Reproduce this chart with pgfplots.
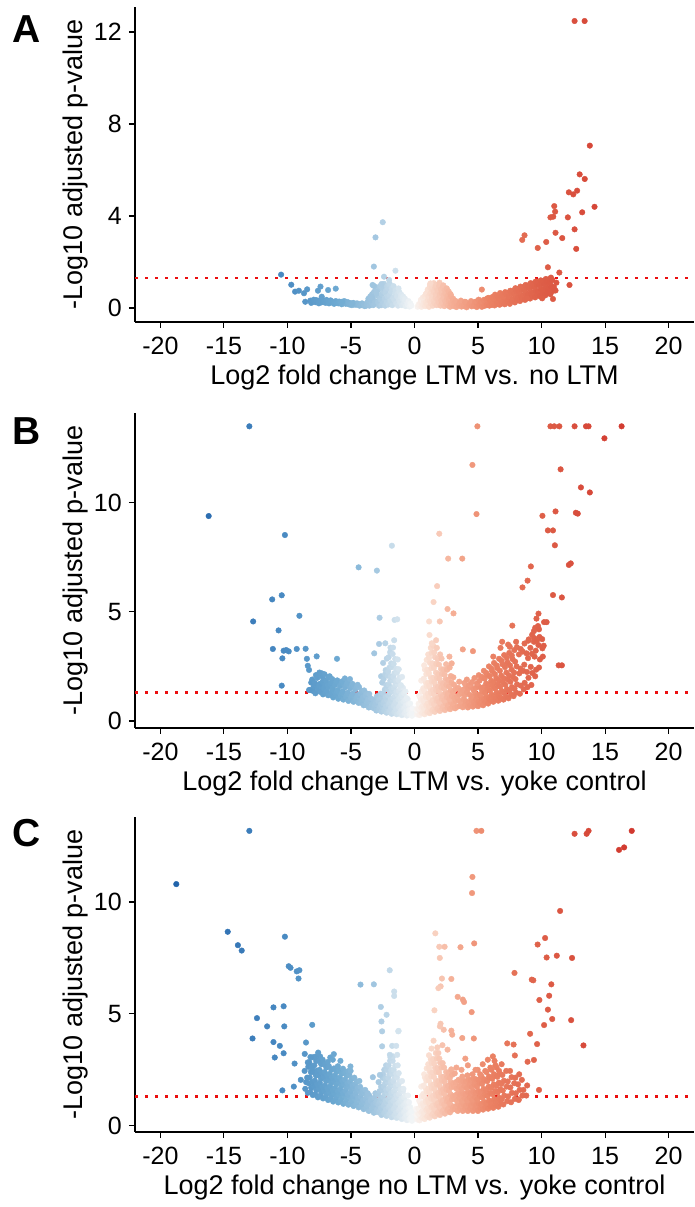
\documentclass[border=0pt]{standalone}
\usepackage{pgfplots}
\pgfplotsset{compat=1.18}
\usepackage{fontspec}
\setmainfont{Liberation Sans}
\pgfplotsset{colormap={volcmap}{
rgb255(0pt)=(28,95,168);
rgb255(5pt)=(50,115,180);
rgb255(10pt)=(75,140,195);
rgb255(14pt)=(110,170,210);
rgb255(17pt)=(165,200,225);
rgb255(19pt)=(220,232,240);
rgb255(20pt)=(248,248,248);
rgb255(21pt)=(250,225,212);
rgb255(23pt)=(245,175,150);
rgb255(26pt)=(235,130,100);
rgb255(30pt)=(222,95,72);
rgb255(35pt)=(212,65,52);
rgb255(40pt)=(205,45,40)}}
\pgfplotsset{
 volc/.style={
  scale only axis, width=559pt, height=315pt,
  xmin=-22, xmax=22,
  axis x line*=bottom, axis y line*=left,
  axis line style={line width=1.3pt, black, -},
  major tick style={line width=1.1pt, black},
  tick align=outside, major tick length=6pt,
  xtick={-20,-15,-10,-5,0,5,10,15,20},
  xticklabels={-20,-15,-10,-5,0,5,10,15,20},
  ticklabel style={font=\fontsize{25}{30}\selectfont, inner sep=0pt},
  xticklabel style={yshift=-9pt},
  yticklabel style={xshift=-7pt},
  /pgf/number format/assume math mode=true,
  xlabel style={font=\fontsize{27}{32}\selectfont, at={(axis description cs:0.5,0)}, anchor=north, inner sep=0pt, yshift=-42.5pt},
  ylabel style={font=\fontsize{27}{32}\selectfont, at={(axis description cs:0,0.5)}, anchor=south, inner sep=0pt, yshift=47pt},
  ylabel={-Log10 adjusted p-value},
  colormap name=volcmap, point meta min=-20, point meta max=20,
  anchor=south west,
 },
 pts/.style={only marks, scatter, scatter src=x, mark=*, mark size=2.8pt,
  scatter/use mapped color={draw=mapped color, fill=mapped color}},
 thr/.style={color={rgb,255:red,235;green,15;blue,15}, line width=2.6pt, dash pattern=on 2.6pt off 7.4pt},
}
\begin{document}
\begin{tikzpicture}
\path[use as bounding box] (0pt,0pt) rectangle (694pt,1207pt);
\node[anchor=base west, inner sep=0pt, font=\bfseries\fontsize{39}{40}\selectfont] at (12pt,1164pt) {A};
\node[anchor=base west, inner sep=0pt, font=\bfseries\fontsize{39}{40}\selectfont] at (12pt,762pt) {B};
\node[anchor=base west, inner sep=0pt, font=\bfseries\fontsize{39}{40}\selectfont] at (12pt,360pt) {C};
% ================= Panel A
\begin{axis}[volc, at={(135pt,885pt)}, ymin=-0.61, ymax=13.09, ytick={0,4,8,12},
 xlabel={Log2 fold change LTM vs. no LTM}]
\addplot[pts] coordinates {
(-8.2,0.32) (-8.13,0.22) (-8.0,0.28) (-7.93,0.36) (-7.8,0.25) (-7.73,0.34) (-7.6,0.3) (-7.53,0.2) (-7.4,0.35) (-7.33,0.24) (-7.2,0.27) (-7.13,0.32) (-7.0,0.22) (-6.93,0.35) (-6.8,0.3) (-6.73,0.2) (-6.6,0.33) (-6.53,0.24) (-6.4,0.26) (-6.33,0.18) (-6.2,0.3) (-6.13,0.22) (-6.0,0.2) (-5.93,0.28) (-5.8,0.25) (-5.73,0.16) (-5.6,0.22) (-5.53,0.3) (-5.4,0.18) (-5.33,0.26) (-5.2,0.24) (-5.13,0.15) (-5.0,0.2) (-4.93,0.12) (-4.8,0.22) (-4.73,0.15) (-4.6,0.14) (-4.53,0.2) (-4.4,0.18) (-4.33,0.1) (-4.2,0.12) (-4.13,0.2) (-4.0,0.16) (-3.93,0.08) (-3.8,0.1) (-3.73,0.18)
(-3.7,0.25) (-3.63,0.4) (-3.55,0.1) (-3.48,0.5) (-3.6,0.3) (-3.4,0.22) (-3.33,0.6) (-3.45,0.38) (-3.25,0.12) (-3.18,0.7) (-3.3,0.45) (-3.1,0.3) (-3.03,0.82) (-3.15,0.18) (-2.95,0.55) (-2.88,0.25) (-3.0,0.9) (-2.8,0.1) (-2.73,0.42) (-2.85,0.8) (-2.65,0.35) (-2.58,0.6) (-2.7,0.95) (-2.61,0.12) (-2.5,0.22) (-2.43,0.7) (-2.55,0.88) (-2.35,0.4) (-2.28,0.65) (-2.4,1.05) (-2.31,0.1) (-2.2,0.25) (-2.13,0.5) (-2.25,0.75) (-2.16,0.95) (-2.05,0.15) (-1.98,0.55) (-2.1,0.85) (-2.01,1.0) (-1.9,0.3) (-1.83,0.7) (-1.95,1.05) (-1.75,0.12) (-1.68,0.45) (-1.8,0.85) (-1.6,0.35) (-1.53,0.65) (-1.65,0.95) (-1.45,0.2) (-1.38,0.5) (-1.5,0.78) (-1.3,0.1) (-1.23,0.35) (-1.35,0.62) (-1.26,0.85) (-1.15,0.25) (-1.08,0.48) (-1.2,0.7) (-1.0,0.12) (-0.93,0.4) (-1.05,0.58) (-0.85,0.2) (-0.78,0.35) (-0.9,0.5) (-0.7,0.08) (-0.63,0.25) (-0.75,0.4) (-0.55,0.15) (-0.48,0.3) (-0.4,0.06) (-0.33,0.2) (-0.25,0.1)
(0.25,0.05) (0.32,0.15) (0.4,0.1) (0.47,0.25) (0.55,0.05) (0.62,0.2) (0.5,0.35) (0.7,0.12) (0.77,0.3) (0.65,0.45) (0.85,0.08) (0.92,0.25) (0.8,0.5) (0.89,0.6) (1.0,0.15) (1.07,0.35) (0.95,0.65) (1.04,0.8) (1.15,0.05) (1.22,0.3) (1.1,0.5) (1.19,0.9) (1.3,0.2) (1.37,0.4) (1.25,0.62) (1.34,0.82) (1.22,1.02) (1.45,0.1) (1.52,0.3) (1.4,0.55) (1.49,0.75) (1.37,0.95) (1.6,0.2) (1.67,0.45) (1.55,0.68) (1.64,0.88) (1.52,1.08) (1.75,0.12) (1.82,0.38) (1.7,0.6) (1.79,0.82) (1.67,1.0) (1.9,0.25) (1.97,0.5) (1.85,0.72) (1.94,0.95) (2.05,0.1) (2.12,0.32) (2.0,0.58) (2.09,0.8) (1.97,1.1) (2.2,0.2) (2.27,0.42) (2.15,0.65) (2.24,0.88) (2.35,0.08) (2.42,0.3) (2.3,0.55) (2.39,0.78) (2.27,0.98) (2.5,0.18) (2.57,0.4) (2.45,0.62) (2.54,0.85) (2.65,0.1) (2.72,0.3) (2.6,0.52) (2.69,0.72) (2.8,0.05) (2.87,0.22) (2.75,0.42) (2.84,0.6) (2.95,0.12) (3.02,0.32) (2.9,0.5) (3.1,0.08) (3.17,0.25) (3.05,0.4)
(3.3,0.04) (3.37,0.2) (3.25,0.3) (3.5,0.12) (3.57,0.22) (3.7,0.06) (3.77,0.16) (3.65,0.32) (3.9,0.08) (3.97,0.27) (4.1,0.03) (4.17,0.19) (4.05,0.25) (4.3,0.12) (4.37,0.2) (4.5,0.07) (4.57,0.13) (4.45,0.3) (4.7,0.1) (4.77,0.26) (4.9,0.04) (4.97,0.21) (4.85,0.28) (5.1,0.13) (5.17,0.2) (5.05,0.36) (5.3,0.05) (5.37,0.22) (5.25,0.27) (5.5,0.09) (5.57,0.3) (5.45,0.35) (5.7,0.12) (5.77,0.17) (5.65,0.38) (5.74,0.42) (5.9,0.1) (5.97,0.32) (5.85,0.44) (6.1,0.14) (6.17,0.19) (6.05,0.4) (6.14,0.48) (6.3,0.11) (6.37,0.34) (6.25,0.4) (6.34,0.58) (6.5,0.17) (6.57,0.22) (6.45,0.45) (6.54,0.53) (6.7,0.14) (6.77,0.36) (6.65,0.44) (6.74,0.65) (6.9,0.2) (6.97,0.26) (6.85,0.5) (6.94,0.57) (7.1,0.16) (7.17,0.41) (7.05,0.47) (7.14,0.69) (7.3,0.26) (7.37,0.34) (7.25,0.6) (7.34,0.66) (7.5,0.18) (7.57,0.4) (7.45,0.48) (7.54,0.75) (7.7,0.3) (7.77,0.38) (7.65,0.65) (7.74,0.74) (7.9,0.24) (7.97,0.5) (7.85,0.6) (7.94,0.86) (8.1,0.34) (8.17,0.46) (8.05,0.74) (8.14,0.82) (8.3,0.3) (8.37,0.56) (8.25,0.68) (8.34,0.93) (8.5,0.4) (8.57,0.52) (8.45,0.82) (8.54,0.9) (8.7,0.35) (8.77,0.64) (8.65,0.76) (8.74,1.0) (8.9,0.46) (8.97,0.58) (8.85,0.9) (8.94,0.98) (9.1,0.41) (9.17,0.7) (9.05,0.84) (9.14,1.08) (9.3,0.52) (9.37,0.66) (9.25,0.94) (9.34,1.06) (9.5,0.46) (9.57,0.76) (9.45,0.9) (9.54,1.15) (9.7,0.56) (9.77,0.72) (9.65,1.02) (9.74,1.12) (9.9,0.5) (9.97,0.84) (9.85,0.98) (9.94,1.2) (10.1,0.62) (10.17,0.78) (10.05,1.08) (10.14,1.18) (10.3,0.55) (10.37,0.9) (10.25,1.02) (10.34,1.26) (10.5,0.66) (10.57,0.84) (10.45,1.14) (10.54,1.24) (10.7,0.6) (10.77,0.95) (10.65,1.08) (10.74,1.32) (10.9,0.74) (10.97,0.9) (10.85,1.22) (11.1,0.76) (11.17,1.1)
};
\addplot[pts] coordinates {
(-7.3,0.49) (-5.7,0.27) (-4.9,0.2)
(-10.5,1.45) (-9.7,1.01) (-9.4,0.71) (-9.1,0.75) (-8.7,0.64) (-8.45,0.81) (-8.6,0.27) (-7.6,0.75) (-7.4,0.93) (-6.8,0.78) (-6.2,0.84)
(-3.2,1.8) (-3.07,3.07) (-2.5,3.73) (-1.5,1.62) (-2.4,1.36) (-3.2,0.96) (-2.6,1.04) (-2.0,1.22) (-3.35,0.45) (-3.3,1.0) (-3.0,0.68)
(1.26,1.07) (5.3,0.8)
(10.5,1.77) (11.4,1.54) (12.2,1.0) (10.05,0.42) (10.9,0.39) (10.6,0.71) (8.87,0.42) (8.48,2.96) (8.66,3.16) (9.7,2.61) (10.37,2.87) (11.1,3.27) (11.63,3.04) (12.73,2.57) (12.6,3.42) (10.7,3.94) (10.92,3.97) (11.07,4.19) (11.0,4.43) (12.07,3.94) (13.2,4.16) (14.17,4.4) (12.15,5.03) (12.5,4.94) (12.8,5.1) (13.0,5.81) (13.4,5.61) (13.8,7.06) (12.6,12.48) (13.39,12.48)
};
\addplot[thr] coordinates {(-22,1.30103) (22,1.30103)};
\end{axis}
% ================= Panel B
\begin{axis}[volc, at={(135pt,479pt)}, ymin=-0.32, ymax=14.11, ytick={0,5,10},
 xlabel={Log2 fold change LTM vs. yoke control}]
\addplot[pts] coordinates {
(-8.2,1.42) (-8.13,1.76) (-8.0,1.38) (-7.93,1.58) (-8.05,1.9) (-7.8,1.27) (-7.73,1.62) (-7.85,1.75) (-7.76,2.1) (-7.6,1.45) (-7.53,1.6) (-7.65,1.98) (-7.56,2.12) (-7.4,1.33) (-7.33,1.55) (-7.45,1.7) (-7.36,2.06) (-7.48,2.22) (-7.2,1.22) (-7.13,1.5) (-7.25,1.78) (-7.16,1.9) (-7.28,2.18) (-7.0,1.28) (-6.93,1.36) (-7.05,1.66) (-6.96,1.82) (-7.08,2.14) (-6.8,1.18) (-6.73,1.55) (-6.85,1.64) (-6.76,2.0) (-6.6,1.2) (-6.53,1.32) (-6.65,1.68) (-6.56,1.76) (-6.68,2.05) (-6.4,1.08) (-6.33,1.36) (-6.45,1.5) (-6.36,1.82) (-6.48,1.92) (-6.2,1.2) (-6.13,1.33) (-6.25,1.66) (-6.16,1.8) (-6.0,1.02) (-5.93,1.3) (-6.05,1.42) (-5.96,1.76) (-6.08,1.86) (-5.8,1.14) (-5.73,1.26) (-5.85,1.6) (-5.76,1.7) (-5.6,0.98) (-5.53,1.25) (-5.65,1.36) (-5.56,1.7) (-5.68,1.82) (-5.4,1.1) (-5.33,1.2) (-5.45,1.55) (-5.36,1.66) (-5.48,1.95) (-5.2,0.92) (-5.13,1.2) (-5.25,1.3) (-5.16,1.65) (-5.28,1.76) (-5.0,1.05) (-4.93,1.15) (-5.05,1.5) (-4.96,1.6) (-5.08,1.92) (-4.8,0.88) (-4.73,1.14) (-4.85,1.26) (-4.76,1.6) (-4.88,1.7) (-4.6,0.98) (-4.53,1.1) (-4.65,1.45) (-4.56,1.56) (-4.4,0.83) (-4.33,1.08) (-4.45,1.2) (-4.36,1.55) (-4.48,1.66) (-4.2,0.84) (-4.13,0.96) (-4.25,1.25) (-4.16,1.36) (-4.0,0.72) (-3.93,1.0) (-4.05,1.1) (-3.96,1.4) (-3.8,0.74) (-3.73,0.86) (-3.85,1.15) (-3.76,1.26) (-3.6,0.62) (-3.53,0.9) (-3.65,1.0) (-3.56,1.24) (-3.4,0.64) (-3.33,0.76) (-3.45,1.04)
(-3.2,0.58) (-3.13,0.72) (-3.25,0.98) (-3.0,0.48) (-2.93,0.74) (-3.05,0.86) (-2.96,1.13) (-2.8,0.52) (-2.73,0.62) (-2.85,0.9) (-2.76,1.02) (-2.6,0.43) (-2.53,0.66) (-2.65,0.77) (-2.56,1.06) (-2.68,1.25) (-2.54,1.76) (-2.63,2.05) (-2.4,0.46) (-2.33,0.55) (-2.45,0.8) (-2.36,0.92) (-2.48,1.27) (-2.34,1.44) (-2.43,1.92) (-2.31,2.14) (-2.47,2.66) (-2.2,0.38) (-2.13,0.6) (-2.25,0.69) (-2.16,0.95) (-2.28,1.1) (-2.14,1.47) (-2.23,1.64) (-2.11,2.08) (-2.27,2.33) (-2.18,2.86) (-2.0,0.42) (-1.93,0.48) (-2.05,0.76) (-1.96,0.84) (-2.08,1.16) (-1.94,1.3) (-2.03,1.66) (-1.91,1.84) (-2.07,2.27) (-1.98,2.44) (-2.04,2.92) (-1.92,3.15) (-1.8,0.33) (-1.73,0.55) (-1.85,0.62) (-1.76,0.9) (-1.88,1.0) (-1.74,1.37) (-1.83,1.5) (-1.71,1.86) (-1.87,2.04) (-1.78,2.47) (-1.84,2.64) (-1.72,3.07) (-1.89,3.36) (-1.6,0.39) (-1.53,0.44) (-1.65,0.68) (-1.56,0.76) (-1.68,1.06) (-1.54,1.15) (-1.63,1.52) (-1.51,1.64) (-1.67,2.02) (-1.58,2.19) (-1.64,2.62) (-1.52,2.84) (-1.69,3.36) (-1.4,0.31) (-1.33,0.5) (-1.45,0.56) (-1.36,0.84) (-1.48,0.9) (-1.34,1.22) (-1.43,1.34) (-1.31,1.68) (-1.47,1.84) (-1.38,2.22) (-1.44,2.39) (-1.32,2.82) (-1.2,0.36) (-1.13,0.4) (-1.25,0.63) (-1.16,0.7) (-1.28,0.98) (-1.14,1.05) (-1.23,1.37) (-1.11,1.49) (-1.27,1.87) (-1.18,1.99) (-1.24,2.37) (-1.0,0.27) (-0.93,0.46) (-1.05,0.5) (-0.96,0.76) (-1.08,0.83) (-0.94,1.12) (-1.03,1.2) (-0.91,1.52) (-1.07,1.64) (-0.98,2.02) (-0.8,0.34) (-0.73,0.36) (-0.85,0.58) (-0.76,0.62) (-0.88,0.88) (-0.74,0.95) (-0.83,1.27) (-0.71,1.35) (-0.6,0.25) (-0.53,0.42) (-0.65,0.46) (-0.56,0.68) (-0.68,0.73) (-0.54,1.01) (-0.63,1.05) (-0.4,0.31) (-0.33,0.33) (-0.45,0.5) (-0.36,0.54) (-0.48,0.77) (-0.34,0.8) (-0.2,0.24) (-0.13,0.37) (-0.25,0.39) (-0.16,0.57)
(0.2,0.3) (0.27,0.39) (0.15,0.5) (0.24,0.57) (0.4,0.27) (0.47,0.44) (0.35,0.55) (0.44,0.7) (0.32,0.79) (0.46,1.05) (0.37,1.16) (0.6,0.36) (0.67,0.41) (0.55,0.6) (0.64,0.68) (0.52,0.95) (0.66,1.04) (0.57,1.36) (0.69,1.5) (0.53,1.85) (0.8,0.31) (0.87,0.5) (0.75,0.56) (0.84,0.83) (0.72,0.92) (0.86,1.25) (0.77,1.4) (0.89,1.76) (0.73,1.94) (0.82,2.36) (0.76,2.55) (1.0,0.4) (1.07,0.46) (0.95,0.7) (1.04,0.8) (0.92,1.1) (1.06,1.25) (0.97,1.6) (1.09,1.75) (0.93,2.15) (1.02,2.35) (0.96,2.8) (1.08,3.05) (1.2,0.36) (1.27,0.6) (1.15,0.66) (1.24,0.97) (1.12,1.08) (1.26,1.45) (1.17,1.6) (1.29,2.0) (1.13,2.2) (1.22,2.66) (1.16,2.9) (1.28,3.35) (1.4,0.47) (1.47,0.53) (1.35,0.83) (1.44,0.94) (1.32,1.28) (1.46,1.42) (1.37,1.8) (1.49,1.98) (1.33,2.42) (1.42,2.64) (1.36,3.12) (1.48,3.45) (1.6,0.42) (1.67,0.67) (1.55,0.77) (1.64,1.1) (1.52,1.24) (1.66,1.62) (1.57,1.78) (1.69,2.22) (1.53,2.44) (1.62,2.92) (1.56,3.15) (1.8,0.53) (1.87,0.6) (1.75,0.93) (1.84,1.04) (1.72,1.42) (1.86,1.56) (1.77,1.98) (1.89,2.14) (1.73,2.62) (1.82,2.84) (1.76,3.35) (2.0,0.46) (2.07,0.76) (1.95,0.86) (2.04,1.22) (1.92,1.36) (2.06,1.78) (1.97,1.94) (2.09,2.38) (1.93,2.58) (2.02,3.05) (2.2,0.57) (2.27,0.66) (2.15,1.02) (2.24,1.14) (2.12,1.55) (2.26,1.7) (2.17,2.16) (2.29,2.36) (2.13,2.86) (2.4,0.5) (2.47,0.82) (2.35,0.94) (2.44,1.32) (2.32,1.48) (2.46,1.92) (2.37,2.12) (2.49,2.6) (2.6,0.61) (2.67,0.72) (2.55,1.1) (2.64,1.24) (2.52,1.66) (2.66,1.88) (2.57,2.35) (2.8,0.54) (2.87,0.87) (2.75,1.0) (2.84,1.42) (2.72,1.58) (2.86,2.06) (2.77,2.45) (3.0,0.64) (3.07,0.77) (2.95,1.15) (3.04,1.32) (2.92,1.76) (3.06,2.0) (3.2,0.58) (3.27,0.92) (3.15,1.04) (3.24,1.46) (3.12,1.66)
(3.4,0.66) (3.47,0.97) (3.35,1.13) (3.44,1.52) (3.6,0.7) (3.67,0.83) (3.55,1.22) (3.64,1.38) (3.52,1.8) (3.8,0.63) (3.87,1.0) (3.75,1.27) (3.84,1.44) (4.0,0.75) (4.07,0.9) (3.95,1.18) (4.04,1.62) (3.92,1.74) (4.2,0.62) (4.27,0.84) (4.15,1.33) (4.24,1.5) (4.12,1.9) (4.4,0.71) (4.47,1.02) (4.35,1.2) (4.44,1.58) (4.32,1.66) (4.6,0.66) (4.67,0.86) (4.55,1.1) (4.64,1.43) (4.52,1.78) (4.8,0.74) (4.87,0.99) (4.75,1.3) (4.84,1.52) (4.72,1.97) (5.0,0.68) (5.07,0.88) (4.95,1.16) (5.04,1.6) (4.92,1.72) (5.06,2.1) (5.2,0.8) (5.27,1.07) (5.15,1.22) (5.24,1.5) (5.12,1.85) (5.4,0.72) (5.47,0.96) (5.35,1.38) (5.44,1.55) (5.32,2.02) (5.46,2.3) (5.6,0.86) (5.67,1.12) (5.55,1.28) (5.64,1.72) (5.52,1.94) (5.66,2.2) (5.8,0.8) (5.87,1.02) (5.75,1.47) (5.84,1.66) (5.72,2.12) (5.86,2.5) (6.0,0.95) (6.07,1.2) (5.95,1.38) (6.04,1.84) (5.92,2.05) (6.06,2.4) (6.2,0.88) (6.27,1.13) (6.15,1.58) (6.24,1.77) (6.12,2.28) (6.26,2.66) (6.4,1.0) (6.47,1.3) (6.35,1.48) (6.44,1.97) (6.32,2.15) (6.46,2.55) (6.6,0.93) (6.67,1.18) (6.55,1.66) (6.64,1.86) (6.52,2.42) (6.66,2.85) (6.8,1.05) (6.87,1.37) (6.75,1.57) (6.84,2.08) (6.72,2.3) (6.86,2.76) (6.77,3.35) (7.0,0.98) (7.07,1.28) (6.95,1.78) (7.04,1.95) (6.92,2.6) (7.06,3.02) (7.2,1.12) (7.27,1.46) (7.15,1.66) (7.24,2.22) (7.12,2.47) (7.26,2.9) (7.4,1.04) (7.47,1.38) (7.35,1.9) (7.44,2.08) (7.32,2.68) (7.46,3.12) (7.37,3.5) (7.6,1.22) (7.67,1.55) (7.55,1.8) (7.64,2.35) (7.52,2.55) (7.66,3.0) (7.8,1.14) (7.87,1.48) (7.75,2.02) (7.84,2.22) (7.72,2.83) (7.86,3.25) (8.0,1.3) (8.07,1.68) (7.95,1.92) (8.04,2.5) (7.92,2.72) (8.06,3.38) (8.3,1.25) (8.37,1.62) (8.25,2.18) (8.34,2.4) (8.22,3.05) (8.36,3.3) (8.6,1.45) (8.67,1.75) (8.55,2.3) (8.64,2.58) (8.52,3.18) (8.66,3.55) (8.9,1.55) (8.97,1.98) (8.85,2.25) (8.94,2.88) (8.82,3.1) (8.96,3.68) (9.2,1.65) (9.27,2.2) (9.15,2.48) (9.24,3.08) (9.12,3.35) (9.26,3.95) (9.5,2.05) (9.57,2.35) (9.45,2.95) (9.54,3.22) (9.42,3.8) (9.8,2.45) (9.87,2.82) (9.75,3.48) (9.84,3.85) (9.72,4.35) (10.1,2.95) (10.17,3.45) (10.05,3.75)
};
\addplot[pts] coordinates {
(-13.0,13.5) (-16.2,9.39) (-10.2,8.52) (-4.4,7.04) (-2.96,6.89) (-1.78,8.03) (-10.45,5.76) (-11.2,5.57) (-12.7,4.56) (-9.06,4.82) (-10.7,4.15) (-11.15,3.30) (-10.3,3.22) (-9.9,3.19) (-10.1,3.25) (-9.27,3.30) (-8.57,3.31) (-10.4,2.87) (-8.47,2.85) (-7.7,2.96) (-6.1,2.85) (-8.4,2.53) (-8.3,2.34) (-10.45,1.62) (-8.3,1.42) (-2.75,4.73) (-1.57,4.63) (-1.36,4.66) (-2.79,3.53) (-3.17,3.1) (-2.3,3.56) (-1.6,3.7)
(1.18,3.94) (1.36,3.56) (1.7,3.7) (2.75,2.95) (2.93,2.64)
(9.0,3.74) (9.4,3.63) (9.65,3.7) (10.07,3.33) (8.0,3.63) (7.5,3.4) (6.9,3.63) (6.2,2.95)
(4.95,13.5) (10.7,13.5) (11.0,13.5) (11.4,13.5) (12.6,13.5) (13.5,13.5) (13.7,13.5) (16.3,13.5) (14.95,12.95) (4.56,11.73) (11.5,11.53) (13.1,10.7) (13.8,10.47) (4.88,9.48) (10.07,9.4) (11.1,9.6) (12.7,9.54) (12.85,9.5) (1.95,8.58) (10.5,8.73) (10.9,8.73) (11.05,8.05) (2.65,7.44) (3.76,7.44) (12.3,7.22) (12.15,7.15) (9.16,7.08) (8.9,6.43) (8.5,6.12) (1.78,6.18) (1.5,5.45) (10.9,5.77) (11.6,5.66) (2.6,5.13) (3.07,4.93) (9.76,4.92) (9.6,4.69) (10.2,4.53) (10.4,4.53) (1.15,4.56) (1.99,4.56) (7.7,4.37) (9.5,4.27) (9.4,4.12) (9.8,4.2) (11.35,2.55) (11.6,2.55) (3.8,3.28) (4.6,3.2)
};
\addplot[thr] coordinates {(-22,1.30103) (22,1.30103)};
\end{axis}
% ================= Panel C
\begin{axis}[volc, at={(135pt,75pt)}, ymin=-0.28, ymax=13.8, ytick={0,5,10},
 xlabel={Log2 fold change no LTM vs. yoke control}]
\addplot[pts] coordinates {
(-8.6,1.65) (-8.53,1.95) (-8.65,2.45) (-8.4,1.47) (-8.33,1.9) (-8.45,2.15) (-8.36,2.63) (-8.2,1.5) (-8.13,1.7) (-8.25,2.16) (-8.16,2.4) (-8.28,2.84) (-8.0,1.37) (-7.93,1.76) (-8.05,1.95) (-7.96,2.4) (-8.08,2.65) (-7.8,1.4) (-7.73,1.6) (-7.85,2.02) (-7.76,2.25) (-7.88,2.7) (-7.74,2.9) (-7.6,1.27) (-7.53,1.66) (-7.65,1.84) (-7.56,2.26) (-7.68,2.46) (-7.54,2.9) (-7.4,1.35) (-7.33,1.5) (-7.45,1.92) (-7.36,2.1) (-7.48,2.5) (-7.34,2.75) (-7.43,3.1) (-7.2,1.22) (-7.13,1.56) (-7.25,1.74) (-7.16,2.16) (-7.28,2.36) (-7.14,2.76) (-7.23,2.95) (-7.0,1.26) (-6.93,1.4) (-7.05,1.8) (-6.96,2.0) (-7.08,2.4) (-6.94,2.6) (-7.03,2.75) (-6.8,1.15) (-6.73,1.5) (-6.85,1.66) (-6.76,2.06) (-6.88,2.25) (-6.74,2.66) (-6.83,2.85) (-6.6,1.2) (-6.53,1.35) (-6.65,1.76) (-6.56,1.92) (-6.68,2.32) (-6.54,2.5) (-6.63,3.05) (-6.4,1.08) (-6.33,1.44) (-6.45,1.6) (-6.36,2.0) (-6.48,2.17) (-6.34,2.56) (-6.43,2.95) (-6.2,1.16) (-6.13,1.3) (-6.25,1.68) (-6.16,1.85) (-6.28,2.24) (-6.14,2.4) (-6.23,2.55) (-6.0,1.04) (-5.93,1.38) (-6.05,1.54) (-5.96,1.94) (-6.08,2.1) (-5.94,2.48) (-6.03,2.66) (-5.8,1.1) (-5.73,1.25) (-5.85,1.62) (-5.76,1.78) (-5.88,2.16) (-5.74,2.33) (-5.83,2.9) (-5.6,0.98) (-5.53,1.33) (-5.65,1.47) (-5.56,1.86) (-5.68,2.0) (-5.54,2.38) (-5.63,2.55) (-5.4,1.05) (-5.33,1.2) (-5.45,1.56) (-5.36,1.7) (-5.48,2.06) (-5.34,2.23) (-5.43,2.4) (-5.2,0.94) (-5.13,1.28) (-5.25,1.4) (-5.16,1.76) (-5.28,1.9) (-5.14,2.28) (-5.23,2.44) (-5.0,1.0) (-4.93,1.13) (-5.05,1.48) (-4.96,1.6) (-5.08,1.96) (-4.94,2.1) (-5.03,2.45) (-4.8,0.88) (-4.73,1.2) (-4.85,1.33) (-4.76,1.68) (-4.88,1.8) (-4.74,2.15) (-4.6,0.95) (-4.53,1.07) (-4.65,1.4) (-4.56,1.53) (-4.68,1.86) (-4.54,1.98) (-4.4,0.82) (-4.33,1.13) (-4.45,1.25) (-4.36,1.58) (-4.48,1.7) (-4.34,2.0) (-4.2,0.87) (-4.13,0.99) (-4.25,1.3) (-4.16,1.43) (-4.28,1.74) (-4.0,0.74) (-3.93,1.05) (-4.05,1.15) (-3.96,1.47) (-4.08,1.58) (-3.8,0.79) (-3.73,0.9) (-3.85,1.2) (-3.76,1.31) (-3.88,1.6) (-3.6,0.66) (-3.53,0.95) (-3.65,1.05) (-3.56,1.35) (-3.68,1.45) (-3.4,0.7) (-3.33,0.8) (-3.45,1.1) (-3.36,1.2) (-3.2,0.58) (-3.13,0.86) (-3.25,0.95) (-3.16,1.25) (-3.0,0.63) (-2.93,0.72) (-3.05,1.0) (-2.96,1.1) (-3.08,1.45)
(-2.8,0.6) (-2.73,0.68) (-2.85,0.95) (-2.76,1.05) (-2.88,1.4) (-2.74,1.55) (-2.83,1.95) (-2.6,0.48) (-2.53,0.73) (-2.65,0.8) (-2.56,1.1) (-2.68,1.24) (-2.54,1.6) (-2.63,1.75) (-2.51,2.14) (-2.4,0.55) (-2.33,0.6) (-2.45,0.88) (-2.36,0.96) (-2.48,1.28) (-2.34,1.4) (-2.43,1.76) (-2.31,1.9) (-2.47,2.3) (-2.38,2.5) (-2.2,0.44) (-2.13,0.68) (-2.25,0.74) (-2.16,1.02) (-2.28,1.12) (-2.14,1.46) (-2.23,1.6) (-2.11,1.96) (-2.27,2.1) (-2.18,2.5) (-2.24,2.7) (-2.0,0.5) (-1.93,0.55) (-2.05,0.82) (-1.96,0.88) (-2.08,1.18) (-1.94,1.3) (-2.03,1.64) (-1.91,1.76) (-2.07,2.14) (-1.98,2.3) (-2.04,2.7) (-1.92,2.9) (-1.8,0.38) (-1.73,0.62) (-1.85,0.67) (-1.76,0.96) (-1.88,1.04) (-1.74,1.36) (-1.83,1.47) (-1.71,1.82) (-1.87,1.95) (-1.78,2.32) (-1.84,2.48) (-1.72,2.9) (-1.89,3.05) (-1.6,0.45) (-1.53,0.49) (-1.65,0.74) (-1.56,0.8) (-1.68,1.1) (-1.54,1.19) (-1.63,1.52) (-1.51,1.63) (-1.67,1.98) (-1.58,2.12) (-1.64,2.5) (-1.52,2.68) (-1.69,3.1) (-1.4,0.35) (-1.33,0.56) (-1.45,0.6) (-1.36,0.88) (-1.48,0.95) (-1.34,1.26) (-1.43,1.36) (-1.31,1.68) (-1.47,1.8) (-1.38,2.16) (-1.44,2.32) (-1.32,2.7) (-1.2,0.4) (-1.13,0.43) (-1.25,0.68) (-1.16,0.73) (-1.28,1.01) (-1.14,1.09) (-1.23,1.4) (-1.11,1.5) (-1.27,1.84) (-1.18,1.96) (-1.24,2.35) (-1.0,0.3) (-0.93,0.5) (-1.05,0.53) (-0.96,0.8) (-1.08,0.86) (-0.94,1.14) (-1.03,1.22) (-0.91,1.54) (-1.07,1.64) (-0.98,2.0) (-0.8,0.35) (-0.73,0.38) (-0.85,0.6) (-0.76,0.64) (-0.88,0.91) (-0.74,0.97) (-0.83,1.26) (-0.71,1.34) (-0.87,1.65) (-0.6,0.25) (-0.53,0.44) (-0.65,0.47) (-0.56,0.72) (-0.68,0.76) (-0.54,1.0) (-0.63,1.07) (-0.51,1.35) (-0.4,0.3) (-0.33,0.33) (-0.45,0.53) (-0.36,0.56) (-0.48,0.79) (-0.34,0.83) (-0.43,1.05) (-0.2,0.22) (-0.13,0.38) (-0.25,0.4) (-0.16,0.6) (-0.28,0.64)
(0.2,0.28) (0.27,0.36) (0.15,0.48) (0.24,0.6) (0.12,0.75) (0.4,0.24) (0.47,0.42) (0.35,0.53) (0.44,0.68) (0.32,0.77) (0.46,1.02) (0.37,1.12) (0.6,0.34) (0.67,0.39) (0.55,0.6) (0.64,0.66) (0.52,0.92) (0.66,1.0) (0.57,1.32) (0.69,1.42) (0.53,1.75) (0.8,0.3) (0.87,0.5) (0.75,0.56) (0.84,0.82) (0.72,0.9) (0.86,1.2) (0.77,1.3) (0.89,1.66) (0.73,1.8) (0.82,2.16) (0.76,2.3) (1.0,0.41) (1.07,0.47) (0.95,0.7) (1.04,0.78) (0.92,1.06) (1.06,1.18) (0.97,1.52) (1.09,1.66) (0.93,2.02) (1.02,2.18) (0.96,2.56) (1.08,2.75) (1.2,0.36) (1.27,0.6) (1.15,0.66) (1.24,0.94) (1.12,1.04) (1.26,1.36) (1.17,1.5) (1.29,1.86) (1.13,2.02) (1.22,2.4) (1.16,2.58) (1.28,2.98) (1.14,3.15) (1.4,0.48) (1.47,0.54) (1.35,0.82) (1.44,0.9) (1.32,1.21) (1.46,1.33) (1.37,1.68) (1.49,1.83) (1.33,2.21) (1.42,2.38) (1.36,2.8) (1.48,2.98) (1.34,3.45) (1.6,0.42) (1.67,0.68) (1.55,0.76) (1.64,1.06) (1.52,1.16) (1.66,1.51) (1.57,1.64) (1.69,2.02) (1.53,2.18) (1.62,2.6) (1.56,2.78) (1.68,3.25) (1.8,0.55) (1.87,0.61) (1.75,0.92) (1.84,1.0) (1.72,1.34) (1.86,1.46) (1.77,1.84) (1.89,1.99) (1.73,2.4) (1.82,2.58) (1.76,3.01) (1.88,3.25) (2.0,0.48) (2.07,0.76) (1.95,0.85) (2.04,1.18) (1.92,1.3) (2.06,1.66) (1.97,1.8) (2.09,2.2) (1.93,2.38) (2.02,2.82) (1.96,3.0) (2.2,0.62) (2.27,0.69) (2.15,1.01) (2.24,1.12) (2.12,1.48) (2.26,1.62) (2.17,2.01) (2.29,2.18) (2.13,2.6) (2.22,2.8) (2.4,0.54) (2.47,0.84) (2.35,0.94) (2.44,1.3) (2.32,1.44) (2.46,1.82) (2.37,1.98) (2.49,2.4) (2.33,2.6) (2.6,0.68) (2.67,0.76) (2.55,1.1) (2.64,1.22) (2.52,1.62) (2.66,1.78) (2.57,2.18) (2.69,2.36) (2.8,0.6) (2.87,0.92) (2.75,1.02) (2.84,1.4) (2.72,1.55) (2.86,1.95) (2.77,2.12) (2.89,2.52) (3.0,0.72) (3.07,0.82) (2.95,1.18) (3.04,1.32) (2.92,1.72) (3.06,1.88) (2.97,2.28)
(3.2,0.74) (3.27,0.88) (3.15,1.2) (3.24,1.37) (3.12,1.75) (3.26,1.95) (3.17,2.34) (3.4,0.66) (3.47,0.97) (3.35,1.1) (3.44,1.47) (3.32,1.65) (3.46,2.05) (3.6,0.77) (3.67,0.9) (3.55,1.24) (3.64,1.4) (3.52,1.77) (3.66,1.97) (3.8,0.66) (3.87,0.97) (3.75,1.1) (3.84,1.45) (3.72,1.63) (3.86,2.0) (3.77,2.2) (4.0,0.77) (4.07,0.9) (3.95,1.25) (4.04,1.41) (3.92,1.8) (4.06,1.99) (4.2,0.66) (4.27,0.98) (4.15,1.13) (4.24,1.5) (4.12,1.67) (4.26,2.07) (4.17,2.25) (4.4,0.77) (4.47,0.91) (4.35,1.27) (4.44,1.45) (4.32,1.84) (4.46,2.03) (4.6,0.66) (4.67,0.99) (4.55,1.15) (4.64,1.53) (4.52,1.71) (4.66,2.11) (4.57,2.3) (4.8,0.77) (4.87,0.92) (4.75,1.3) (4.84,1.47) (4.72,1.87) (4.86,2.07) (5.0,0.66) (5.07,1.0) (4.95,1.17) (5.04,1.55) (4.92,1.75) (5.06,2.05) (4.97,2.5) (5.2,0.79) (5.27,0.95) (5.15,1.33) (5.24,1.51) (5.12,1.92) (5.26,2.22) (5.17,2.3) (5.4,0.72) (5.47,1.07) (5.35,1.25) (5.44,1.65) (5.32,1.87) (5.46,2.08) (5.37,2.75) (5.6,0.83) (5.67,1.0) (5.55,1.39) (5.64,1.6) (5.52,2.03) (5.66,2.4) (5.57,2.45) (5.8,0.76) (5.87,1.13) (5.75,1.33) (5.84,1.75) (5.72,1.99) (5.86,2.2) (5.77,2.95) (6.0,0.87) (6.07,1.05) (5.95,1.47) (6.04,1.7) (5.92,2.15) (6.06,2.5) (5.97,2.6) (6.2,0.8) (6.27,1.19) (6.15,1.41) (6.24,1.85) (6.12,2.1) (6.26,2.3) (6.17,3.1) (6.4,0.93) (6.47,1.12) (6.35,1.55) (6.44,1.79) (6.32,2.25) (6.46,2.6) (6.37,2.7) (6.6,0.85) (6.67,1.25) (6.55,1.49) (6.64,1.93) (6.52,2.19) (6.66,2.45) (6.8,1.0) (6.87,1.2) (6.75,1.63) (6.84,1.87) (6.72,2.33) (6.86,2.75) (7.0,0.95) (7.07,1.35) (6.95,1.57) (7.04,2.01) (6.92,2.27) (7.3,1.1) (7.37,1.31) (7.25,1.75) (7.34,1.98) (7.22,2.45) (7.6,1.05) (7.67,1.47) (7.55,1.71) (7.64,2.17) (7.52,2.45) (7.9,1.2) (7.97,1.45) (7.85,1.9) (7.94,2.15) (8.2,1.15) (8.27,1.6) (8.15,1.85) (8.24,2.3) (8.5,1.35) (8.57,1.6) (8.45,2.05) (8.8,1.35) (8.87,1.8)
};
\addplot[pts] coordinates {
(-13.0,13.18) (-18.75,10.8) (-14.7,8.67) (-13.9,8.07) (-13.6,7.83) (-10.2,8.45) (-9.9,7.13) (-9.76,7.06) (-9.27,6.9) (-9.06,6.95) (-9.13,6.58) (-4.25,6.31) (-3.2,6.32) (-1.95,6.95) (-1.6,6.0) (-1.6,5.8) (-11.1,5.29) (-10.3,5.34) (-12.4,4.81) (-11.6,4.44) (-10.25,4.44) (-12.75,3.9) (-11.1,3.74) (-10.6,3.57) (-10.3,3.24) (-11.0,3.05) (-9.44,2.78) (-8.05,4.51) (-8.54,3.72) (-8.64,3.21) (-8.0,3.06) (-7.8,3.09) (-2.65,5.31) (-2.2,4.96) (-2.6,4.66) (-1.25,4.24) (-10.4,1.58) (-9.5,1.75) (-8.95,2.05) (-8.19,3.07) (-7.58,3.27) (-6.35,3.2) (-8.4,2.83) (-8.06,2.57) (-5.04,2.65) (-2.55,4.22) (-1.28,4.22) (-2.55,3.55) (-1.76,3.57) (-1.44,3.57) (-1.94,3.17) (-1.36,3.17) (-3.28,2.17) (-2.73,2.27)
(2.05,4.56) (2.3,4.29) (2.97,4.07) (3.76,3.92) (1.5,3.8) (1.8,3.5) (2.2,3.6) (2.6,3.4) (3.3,2.6) (3.7,2.5) (4.0,3.0) (4.2,2.7) (4.8,2.5) (6.3,2.9)
(4.88,13.18) (5.26,13.18) (12.6,13.05) (13.55,13.05) (13.7,13.18) (17.1,13.18) (16.1,12.33) (16.5,12.44) (4.56,11.12) (4.53,10.4) (11.46,9.6) (1.64,8.6) (1.95,8.0) (2.37,8.0) (3.62,7.98) (4.7,8.15) (10.28,8.39) (9.69,8.1) (10.4,7.52) (11.2,7.6) (12.4,7.5) (1.99,7.5) (7.87,6.83) (2.16,6.58) (2.06,6.23) (1.88,6.15) (2.9,6.56) (9.23,6.53) (9.35,6.5) (10.77,6.32) (3.4,5.76) (3.8,5.64) (3.9,5.53) (9.83,5.62) (10.6,5.81) (1.57,5.16) (4.5,5.08) (10.5,5.19) (10.84,4.77) (10.2,4.5) (12.33,4.72) (2.0,4.44) (2.9,4.25) (4.67,3.9) (9.1,4.11) (13.3,3.59) (7.3,3.68) (7.8,3.63) (9.65,3.65) (7.9,3.14) (8.9,2.86) (9.4,2.94) (9.8,1.6) (8.2,1.18)
};
\addplot[thr] coordinates {(-22,1.30103) (22,1.30103)};
\end{axis}
\end{tikzpicture}
\end{document}
